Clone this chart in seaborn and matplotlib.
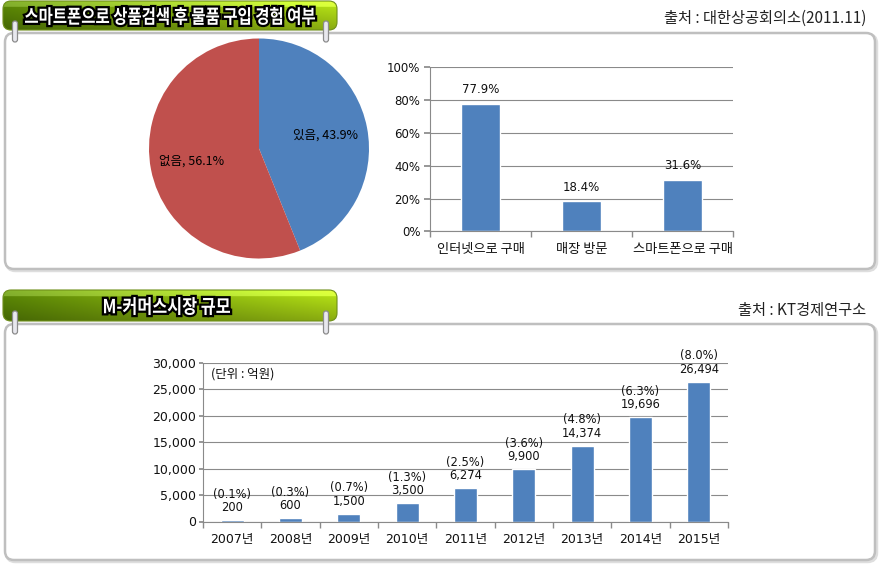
import numpy as np
import pandas as pd
import matplotlib
matplotlib.use("Agg")
import matplotlib.pyplot as plt
import seaborn as sns
from matplotlib.patches import FancyBboxPatch, PathPatch
from matplotlib.textpath import TextPath
from matplotlib.font_manager import FontProperties
from matplotlib.transforms import Affine2D
import matplotlib.patheffects as pe
from matplotlib.ticker import FixedLocator, FuncFormatter

# ---------------- data ----------------
pie_labels = ["있음", "없음"]
pie_values = [43.9, 56.1]

buy_categories = ["인터넷으로 구매", "매장 방문", "스마트폰으로 구매"]
buy_values = [77.9, 18.4, 31.6]

years = ["2007년", "2008년", "2009년", "2010년", "2011년", "2012년", "2013년", "2014년", "2015년"]
market_values = [200, 600, 1500, 3500, 6274, 9900, 14374, 19696, 26494]
market_shares = ["(0.1%)", "(0.3%)", "(0.7%)", "(1.3%)", "(2.5%)", "(3.6%)", "(4.8%)", "(6.3%)", "(8.0%)"]

title1 = "스마트폰으로 상품검색 후 물품 구입 경험 여부"
source1 = "출처 : 대한상공회의소(2011.11)"
title2 = "M-커머스시장 규모"
source2 = "출처 : KT경제연구소"
unit_note = "(단위 : 억원)"

# ---------------- style ----------------
sns.set_theme(style="white")
plt.rcParams["font.family"] = ["Noto Sans CJK KR", "DejaVu Sans"]
NUMFONT = ["DejaVu Sans", "Noto Sans CJK KR"]
BLUE = "#4F81BD"
RED = "#C0504D"
GRID = "#8a8a8a"
TXT = "#111111"

W, H = 880, 564
fig = plt.figure(figsize=(W / 100, H / 100), dpi=100)
fig.patch.set_facecolor("white")


def box(x0, y0, x1, y1):
    return [x0 / W, 1 - y1 / H, (x1 - x0) / W, (y1 - y0) / H]


# background axes in pixel coordinates
bg = fig.add_axes([0, 0, 1, 1], zorder=0)
bg.set_xlim(0, W)
bg.set_ylim(H, 0)
bg.axis("off")


def panel(x0, y0, x1, y1):
    sh = FancyBboxPatch((x0 + 1.5, y0 + 1.5), x1 - x0, y1 - y0,
                        boxstyle="round,pad=0,rounding_size=9",
                        facecolor="none", edgecolor="#dedede", linewidth=2.5, zorder=1)
    bg.add_patch(sh)
    p = FancyBboxPatch((x0, y0), x1 - x0, y1 - y0,
                       boxstyle="round,pad=0,rounding_size=9",
                       facecolor="white", edgecolor="#bfbfbf", linewidth=1.8, zorder=2)
    bg.add_patch(p)


def fitted_text(text, x0, x1, ytop, ybot):
    fp = FontProperties(family="Noto Sans CJK KR", weight="bold")
    tp = TextPath((0, 0), text, size=20, prop=fp)
    ext = tp.get_extents()
    sx = (x1 - x0) / ext.width
    sy = (ybot - ytop) / ext.height
    tr = (Affine2D().translate(-ext.x0, -ext.y0).scale(sx, -sy).translate(x0, ybot))
    path = tr.transform_path(tp)
    pp = PathPatch(path, facecolor="white", edgecolor="none", zorder=6)
    pp.set_path_effects([pe.Stroke(linewidth=3.2, foreground="black"), pe.Normal()])
    bg.add_patch(pp)


def banner(x0, y0, x1, y1, text, tx0, tx1, ty0, ty1):
    nx, ny = 200, 40
    gx = np.linspace(0, 1, nx)[None, :]
    gy = np.linspace(0, 1, ny)[:, None]
    left = np.array([0.33, 0.49, 0.02])
    right = np.array([0.66, 0.82, 0.08])
    base = left[None, None, :] * (1 - gx[..., None]) + right[None, None, :] * gx[..., None]
    shade = 1.12 - 0.30 * gy
    hl = np.where(gy < 0.18, 0.15, 0.0)
    img = np.clip(base * shade[..., None] + hl[..., None], 0, 1)
    im = bg.imshow(img, extent=[x0, x1, y1, y0], origin="upper", aspect="auto", zorder=4)
    clip = FancyBboxPatch((x0, y0), x1 - x0, y1 - y0,
                          boxstyle="round,pad=0,rounding_size=8",
                          facecolor="none", edgecolor="#6f8f1a", linewidth=0.8, zorder=5)
    bg.add_patch(clip)
    im.set_clip_path(clip)
    fitted_text(text, tx0, tx1, ty0, ty1)


def pin(x, y0, y1):
    p = FancyBboxPatch((x - 2.5, y0), 5, y1 - y0,
                       boxstyle="round,pad=0,rounding_size=2.5",
                       facecolor="#e8e8ee", edgecolor="#8c8c8c", linewidth=0.9, zorder=7)
    bg.add_patch(p)


# panels, banners and pins
panel(5, 33, 875, 269)
panel(5, 324, 875, 560)
banner(3, 1, 337, 30, title1, 25, 315, 7, 25)
banner(3, 290, 337, 321, title2, 104, 230, 297, 315)
for (x, y0, y1) in [(15, 21, 42), (326, 21, 42), (15, 311, 334), (326, 311, 334)]:
    pin(x, y0, y1)

bg.text(866, 18, source1, ha="right", va="center", fontsize=11, color="#222222", zorder=6)
bg.text(866, 311, source2, ha="right", va="center", fontsize=11, color="#222222", zorder=6)

# ---------------- pie ----------------
axp = fig.add_axes(box(149, 38.5, 369, 258.5), zorder=3)
wedges, _ = axp.pie(pie_values, colors=[BLUE, RED], startangle=90, counterclock=False,
                    radius=1, wedgeprops=dict(linewidth=0))
axp.set_xlim(-1.0, 1.0)
axp.set_ylim(-1.0, 1.0)
axp.set_aspect("auto")
for w, lab, v in zip(wedges, pie_labels, pie_values):
    ang = np.deg2rad((w.theta1 + w.theta2) / 2)
    r = 0.62
    axp.text(r * np.cos(ang), r * np.sin(ang), f"{lab}, {v}%", ha="center", va="center",
             fontsize=9, color="black")

# ---------------- bar chart 1 ----------------
ax1 = fig.add_axes(box(430, 67.3, 733, 231.5), zorder=3)
ax1.set_facecolor("none")
df1 = pd.DataFrame({"cat": buy_categories, "val": buy_values})
sns.barplot(data=df1, x="cat", y="val", color=BLUE, saturation=1, width=0.39, ax=ax1)
ax1.set_ylim(0, 100)
ax1.set_xlim(-0.5, len(buy_categories) - 0.5)
ax1.set_yticks(np.arange(0, 101, 20))
ax1.yaxis.set_major_formatter(FuncFormatter(lambda v, p: f"{int(v)}%"))
ax1.grid(axis="y", color=GRID, linewidth=0.8)
ax1.set_axisbelow(True)
ax1.set_xlabel("")
ax1.set_ylabel("")
for s in ["top", "right"]:
    ax1.spines[s].set_visible(False)
for s in ["left", "bottom"]:
    ax1.spines[s].set_color(GRID)
    ax1.spines[s].set_linewidth(0.8)
ax1.xaxis.set_minor_locator(FixedLocator(np.arange(-0.5, len(buy_categories), 1.0)))
ax1.tick_params(axis="x", which="major", length=0, pad=8, labelsize=9.5, labelcolor=TXT)
ax1.tick_params(axis="x", which="minor", length=4, color=GRID, direction="out", bottom=True)
ax1.tick_params(axis="y", length=4, color=GRID, direction="out", left=True, pad=3,
                labelsize=8.5, labelcolor=TXT)
for lab in ax1.get_yticklabels():
    lab.set_family(NUMFONT)
for i, v in enumerate(buy_values):
    ax1.annotate(f"{v}%", (i, v), xytext=(0, 10), textcoords="offset points",
                 ha="center", va="center", fontsize=8.5, color=TXT, family=NUMFONT)

# ---------------- bar chart 2 ----------------
ax2 = fig.add_axes(box(203, 363, 728, 521.5), zorder=3)
ax2.set_facecolor("none")
df2 = pd.DataFrame({"year": years, "val": market_values})
sns.barplot(data=df2, x="year", y="val", color=BLUE, saturation=1, width=0.39, ax=ax2)
ax2.set_ylim(0, 30000)
ax2.set_xlim(-0.5, len(years) - 0.5)
ax2.set_yticks(np.arange(0, 30001, 5000))
ax2.yaxis.set_major_formatter(FuncFormatter(lambda v, p: f"{int(v):,}"))
ax2.grid(axis="y", color=GRID, linewidth=0.8)
ax2.set_axisbelow(True)
ax2.set_xlabel("")
ax2.set_ylabel("")
for s in ["top", "right"]:
    ax2.spines[s].set_visible(False)
for s in ["left", "bottom"]:
    ax2.spines[s].set_color(GRID)
    ax2.spines[s].set_linewidth(0.8)
ax2.xaxis.set_minor_locator(FixedLocator(np.arange(-0.5, len(years), 1.0)))
ax2.tick_params(axis="x", which="major", length=0, pad=8, labelsize=9, labelcolor=TXT)
ax2.tick_params(axis="x", which="minor", length=4, color=GRID, direction="out", bottom=True)
ax2.tick_params(axis="y", length=3, color=GRID, direction="out", left=True, pad=2,
                labelsize=9, labelcolor=TXT)
for lab in ax2.get_yticklabels() + ax2.get_xticklabels():
    lab.set_family(NUMFONT)
for i, (v, s) in enumerate(zip(market_values, market_shares)):
    ax2.annotate(f"{v:,}", (i, v), xytext=(0, 9), textcoords="offset points",
                 ha="center", va="center", fontsize=8.3, color=TXT, family=NUMFONT)
    ax2.annotate(s, (i, v), xytext=(0, 18.5), textcoords="offset points",
                 ha="center", va="center", fontsize=8.3, color=TXT, family=NUMFONT)
ax2.text(0.015, 0.93, unit_note, transform=ax2.transAxes, ha="left", va="center",
         fontsize=9, color=TXT)

fig.savefig("out.png", dpi=100)
